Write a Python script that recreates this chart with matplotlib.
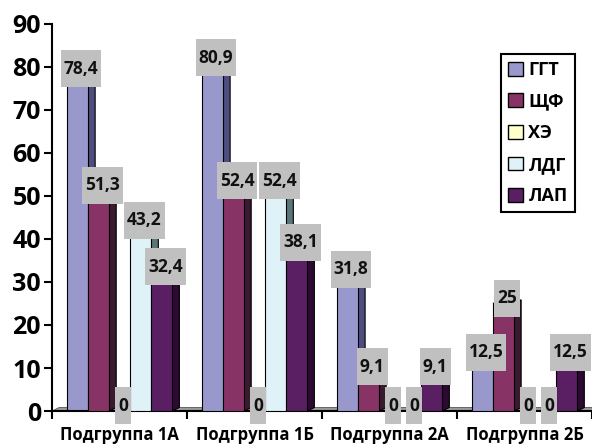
import matplotlib
matplotlib.use("Agg")
import matplotlib.pyplot as plt
from matplotlib.patches import Polygon, Rectangle, Patch
import numpy as np

plt.rcParams["font.family"] = ["Open Sans", "DejaVu Sans"]
plt.rcParams["font.weight"] = "bold"

groups = ["Подгруппа 1А", "Подгруппа 1Б", "Подгруппа 2А", "Подгруппа 2Б"]
series = ["ГГТ", "ЩФ", "ХЭ", "ЛДГ", "ЛАП"]
ggt = [78.4, 80.9, 31.8, 12.5]
shf = [51.3, 52.4, 9.1, 25]
khe = [0, 0, 0, 0]
ldg = [43.2, 52.4, 0, 0]
lap = [32.4, 38.1, 9.1, 12.5]
values = [ggt, shf, khe, ldg, lap]

fronts = ["#9898cc", "#883366", "#ffffcc", "#dff2f8", "#5a1e63"]
sides = ["#4d4d80", "#3a1a2e", "#a0a080", "#5a7676", "#2c0a32"]

BAR_W = 0.156     # front face width, in group units
OFFSET = 0.111    # gap from group edge to first bar
DX, DY = 0.052, 0.8   # 3-D depth offset (x in group units, y in value units)
LABEL_BG = "#c0c0c0"

fig = plt.figure(figsize=(5.92, 4.45), dpi=100)
ax = fig.add_axes([0.088, 0.0764, 0.912, 0.8697])
ax.set_xlim(0, 4)
ax.set_ylim(0, 90)

# floor slab
ax.add_patch(Polygon([(0, 0), (4, 0), (4 + DX, DY), (DX, DY)], closed=True,
                     facecolor="#9a9a9a", edgecolor="#555555", lw=0.6,
                     clip_on=False, zorder=1))

labels = []
for g in range(len(groups)):
    for s in range(len(series)):
        v = values[s][g]
        x0 = g + OFFSET + s * BAR_W
        x1 = x0 + BAR_W
        z = 2 + g * 10 + s
        if v > 0:
            # right side face
            ax.add_patch(Polygon([(x1, 0), (x1 + DX, DY), (x1 + DX, v + DY), (x1, v)],
                                 closed=True, facecolor=sides[s], edgecolor="black",
                                 lw=0.8, zorder=z))
            # top face
            ax.add_patch(Polygon([(x0, v), (x1, v), (x1 + DX, v + DY), (x0 + DX, v + DY)],
                                 closed=True, facecolor=fronts[s], edgecolor="black",
                                 lw=0.8, zorder=z))
            # front face
            ax.add_patch(Rectangle((x0, 0), BAR_W, v, facecolor=fronts[s],
                                   edgecolor="black", lw=0.8, zorder=z))
        txt = f"{v:g}".replace(".", ",")
        t = ax.text(x0 + (BAR_W + DX) / 2, v + 1.2, txt, ha="center", va="center",
                    fontsize=12.5, fontweight="bold", color="#111111", zorder=60 + z)
        labels.append(t)

# grey label boxes sized from the rendered text
fig.canvas.draw()
renderer = fig.canvas.get_renderer()
inv = ax.transData.inverted()
for t in labels:
    bb = t.get_window_extent(renderer)
    cx, cy = (bb.x0 + bb.x1) / 2, (bb.y0 + bb.y1) / 2
    w, h = bb.width + 6, 37
    (dx0, dy0) = inv.transform((cx - w / 2, cy - h / 2))
    (dx1, dy1) = inv.transform((cx + w / 2, cy + h / 2))
    ax.add_patch(Rectangle((dx0, dy0), dx1 - dx0, dy1 - dy0, facecolor=LABEL_BG,
                           edgecolor="none", zorder=t.get_zorder() - 0.5, clip_on=False))

for side in ("top", "right"):
    ax.spines[side].set_visible(False)
ax.spines["left"].set_linewidth(1.5)
ax.spines["bottom"].set_linewidth(1.5)

ax.set_yticks(np.arange(0, 91, 10))
ax.tick_params(axis="y", labelsize=18, length=6, width=1.5, pad=2)
for lab in ax.get_yticklabels():
    lab.set_fontweight("bold")

ax.set_xticks(np.arange(len(groups)) + 0.5)
ax.set_xticklabels(groups, fontsize=12, fontweight="bold")
ax.set_xticks(np.arange(0, len(groups) + 1), minor=True)
ax.tick_params(axis="x", which="major", length=0, pad=11)
ax.tick_params(axis="x", which="minor", length=6, width=1.5)

handles = [Patch(facecolor=fronts[i], edgecolor="black", lw=1.0, label=series[i])
           for i in range(len(series))]
leg = fig.legend(handles=handles, loc="upper right", bbox_to_anchor=(0.971, 0.879),
                 prop={"size": 13, "weight": "bold"}, fancybox=False,
                 edgecolor="black", framealpha=1, handlelength=0.8, handleheight=0.8,
                 handletextpad=0.3, labelspacing=0.75, borderpad=0.4,
                 borderaxespad=0)
leg.get_frame().set_linewidth(1.5)

fig.savefig("out.png", dpi=100, facecolor="white")
